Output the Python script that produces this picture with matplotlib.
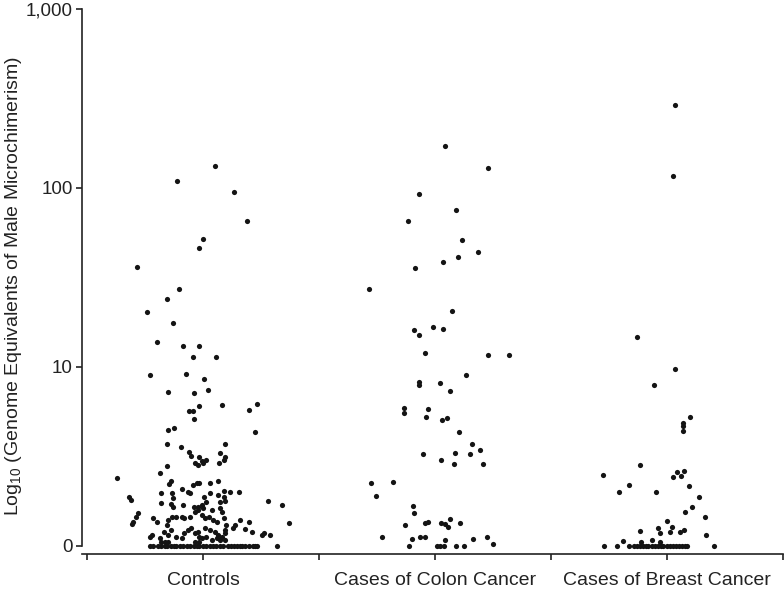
import numpy as np
import matplotlib
matplotlib.use("Agg")
import matplotlib.pyplot as plt

plt.rcParams['font.family'] = ['Liberation Sans', 'DejaVu Sans']
plt.rcParams['mathtext.default'] = 'regular'

groups = ['Controls', 'Cases of Colon Cancer', 'Cases of Breast Cancer']
group_pos = [1, 3, 5]

# log10 genome equivalents (0 = none detected) and horizontal jitter
controls_log = [2.125, 2.04, 1.976, 1.816, 1.717, 1.663, 1.56, 1.434, 1.38, 1.309, 1.244, 1.138,
                1.119, 1.119, 1.054, 1.056, 0.954, 0.959, 0.935, 0.86, 0.853, 0.872, 0.782, 0.788,
                0.754, 0.754, 0.708, 0.761, 0.793, 0.646, 0.658, 0.637, 0.57, 0.57,
                0.551, 0.523, 0.504, 0.499, 0.477, 0.462, 0.453, 0.447, 0.406, 0.378, 0.365, 0.346,
                0.352, 0.352, 0.341, 0.275, 0.257, 0.294, 0.294, 0.266, 0.318, 0.303, 0.294, 0.239,
                0.233, 0.22, 0.229, 0.22, 0.22, 0.229, 0.186, 0.164, 0.136, 0.123, 0.155, 0.136,
                0.145, 0.16, 0.117, 0.164, 0.164, 0.155, 0.164, 0.192, 0.201, 0.173, 0.08, 0.043,
                0.061, 0.052, 0.089, 0.061, 0.052, 0.043, 0.071, 0.089, 0.099, 0.071, 0.08, 0.052,
                0.024, 0.024, 0.024, 0.024, 0.024,
                0.518, 0.499, 0.48, 0.465, 0.48, 0.462, 0.35, 0.365, 0.3, 0.309, 0.303, 0.275,
                0.294, 0.275, 0.247, 0.285, 0.247, 0.251, 0.253, 0.229, 0.211, 0.201, 0.211, 0.192,
                0.155, 0.16, 0.145, 0.136, 0.155, 0.117, 0.089, 0.145, 0.136, 0.117, 0.099, 0.093,
                0.08, 0.127, 0.074, 0.061, 0.061, 0.089, 0.099, 0.08, 0.061, 0.052, 0.071, 0.043,
                0.052, 0.034, 0.043, 0.034, 0.034] + [0.0] * 35
controls_jit = [0.10, -0.22, 0.27, 0.38, 0.00, -0.03, -0.57, -0.21, -0.31, -0.48, -0.26, -0.40,
                -0.17, -0.03, -0.09, 0.11, -0.46, -0.15, 0.01, -0.30, -0.08, 0.04, -0.03, 0.16,
                -0.12, -0.09, -0.08, 0.40, 0.47, -0.30, -0.25, 0.45, -0.31, 0.19,
                -0.19, -0.12, -0.10, -0.03, -0.01, -0.07, -0.04, -0.31, -0.37, -0.74, -0.28, -0.29,
                -0.03, -0.05, -0.09, -0.64, -0.62, -0.36, -0.27, -0.26, -0.18, -0.13, -0.11, -0.36,
                -0.28, -0.26, -0.17, -0.08, -0.04, -0.01, -0.56, -0.58, -0.60, -0.61, -0.43, -0.40,
                -0.30, -0.27, -0.31, -0.23, -0.18, -0.16, -0.11, -0.07, -0.04, -0.01, -0.34, -0.37,
                -0.44, -0.46, -0.28, -0.30, -0.23, -0.18, -0.16, -0.13, -0.10, -0.07, -0.04, -0.03,
                -0.36, -0.33, -0.30, -0.07, -0.03,
                0.15, 0.19, 0.18, 0.14, 0.03, 0.00, 0.06, 0.13, 0.31, 0.18, 0.23, 0.18,
                0.06, 0.01, 0.03, 0.13, 0.15, 0.19, 0.56, 0.68, 0.00, 0.08, 0.15, 0.16,
                0.02, 0.05, 0.09, 0.12, 0.18, 0.20, 0.19, 0.32, 0.40, 0.28, 0.26, 0.36,
                0.42, 0.74, 0.53, 0.58, 0.51, 0.06, 0.02, 0.10, 0.13, 0.16, 0.19, -0.01,
                0.03, 0.08, 0.12, 0.15, 0.19,
                -0.46, -0.43, -0.39, -0.36, -0.33, -0.31, -0.28, -0.25, -0.23, -0.20, -0.17, -0.14,
                -0.11, -0.08, -0.05, -0.03, 0.00, 0.03, 0.06, 0.09, 0.11, 0.15, 0.17, 0.22,
                0.24, 0.27, 0.29, 0.32, 0.34, 0.36, 0.40, 0.43, 0.45, 0.47, 0.64]

colon_log = [2.236, 2.113, 1.965, 1.875, 1.814, 1.708, 1.642, 1.613, 1.587, 1.551, 1.437, 1.315,
             1.207, 1.18, 1.223, 1.212, 1.077, 1.065, 1.067, 0.955, 0.918, 0.899, 0.909, 0.868,
             0.769, 0.745, 0.765, 0.722, 0.704, 0.713, 0.637, 0.57, 0.536, 0.514, 0.521, 0.512,
             0.482, 0.458, 0.46, 0.35, 0.358, 0.281, 0.223, 0.183, 0.119, 0.127, 0.132, 0.127,
             0.121, 0.108, 0.153, 0.13, 0.052, 0.041, 0.052, 0.052, 0.034, 0.039, 0.049, 0.013,
             0.0, 0.0, 0.0, 0.0, 0.0, 0.0]
colon_jit = [0.09, 0.46, -0.14, 0.18, -0.23, 0.23, 0.37, 0.20, 0.07, -0.17, -0.57, 0.15,
             -0.18, -0.14, -0.02, 0.07, -0.09, 0.46, 0.64, 0.27, -0.14, -0.14, 0.04, 0.13,
             -0.27, -0.27, -0.06, -0.08, 0.06, 0.10, 0.21, 0.32, 0.39, -0.10, 0.17, 0.30,
             0.05, 0.16, 0.41, -0.55, -0.36, -0.51, -0.19, -0.18, -0.26, -0.09, -0.06, 0.05,
             0.09, 0.11, 0.13, 0.22, -0.46, -0.20, -0.13, -0.09, 0.09, 0.33, 0.45, 0.50,
             -0.22, 0.02, 0.04, 0.08, 0.18, 0.25]

breast_log = [2.464, 2.065, 1.168, 0.987, 0.899, 0.722, 0.685, 0.67, 0.642, 0.454, 0.397, 0.412,
              0.384, 0.391, 0.421, 0.339, 0.302, 0.302, 0.335, 0.274, 0.216, 0.188, 0.164, 0.14,
              0.099, 0.108, 0.074, 0.078, 0.082, 0.089, 0.078, 0.061, 0.028, 0.035, 0.021, 0.022] + [0.0] * 23
breast_jit = [0.07, 0.05, -0.26, 0.07, -0.11, 0.20, 0.14, 0.14, 0.14, -0.23, -0.55, 0.09,
              0.05, 0.12, 0.15, -0.33, -0.41, -0.09, 0.19, 0.28, 0.22, 0.16, 0.33, 0.00,
              -0.08, 0.04, -0.06, 0.03, -0.23, 0.15, 0.11, 0.34, -0.38, -0.13, -0.22, -0.06,
              -0.54, -0.43, -0.33, -0.28, -0.26, -0.23, -0.21, -0.18, -0.16, -0.13, -0.10, -0.08,
              -0.05, -0.03, 0.00, 0.03, 0.05, 0.08, 0.10, 0.13, 0.16, 0.17, 0.41]

yticks = [0, 1, 2, 3]
ytick_labels = ['0', '10', '100', '1,000']

fig = plt.figure(figsize=(7.84, 5.91), dpi=100)
ax = fig.add_axes([0.1046, 0.0626, 0.894, 0.9255])

data = [(controls_log, controls_jit), (colon_log, colon_jit), (breast_log, breast_jit)]
for pos, (vals, jit) in zip(group_pos, data):
    ax.scatter(pos + np.array(jit), vals, s=14, color='#141414', linewidths=0, zorder=3)

ax.set_xlim(-0.043, 6.0)
ax.set_ylim(-0.045, 3.011)
ax.set_xticks(range(7))
ax.set_xticklabels(['', groups[0], '', groups[1], '', groups[2], ''])
ax.set_yticks(yticks)
ax.set_yticklabels(ytick_labels)
ax.spines['top'].set_visible(False)
ax.spines['right'].set_visible(False)
ax.spines['left'].set_bounds(0, 3)
for sp in ['left', 'bottom']:
    ax.spines[sp].set_linewidth(1.2)
    ax.spines[sp].set_color('#222222')
ax.tick_params(axis='both', direction='out', length=4, width=1.2, color='#222222',
               labelcolor='#222222')
ax.tick_params(axis='x', pad=9, labelsize=14)
ax.tick_params(axis='y', pad=2.5, labelsize=13.5)
ax.set_ylabel('Log$_{10}$ (Genome Equivalents of Male Microchimerism)', fontsize=14, color='#222222')
ax.yaxis.set_label_coords(-0.083, 0.49)

fig.savefig('out.png', dpi=100)
